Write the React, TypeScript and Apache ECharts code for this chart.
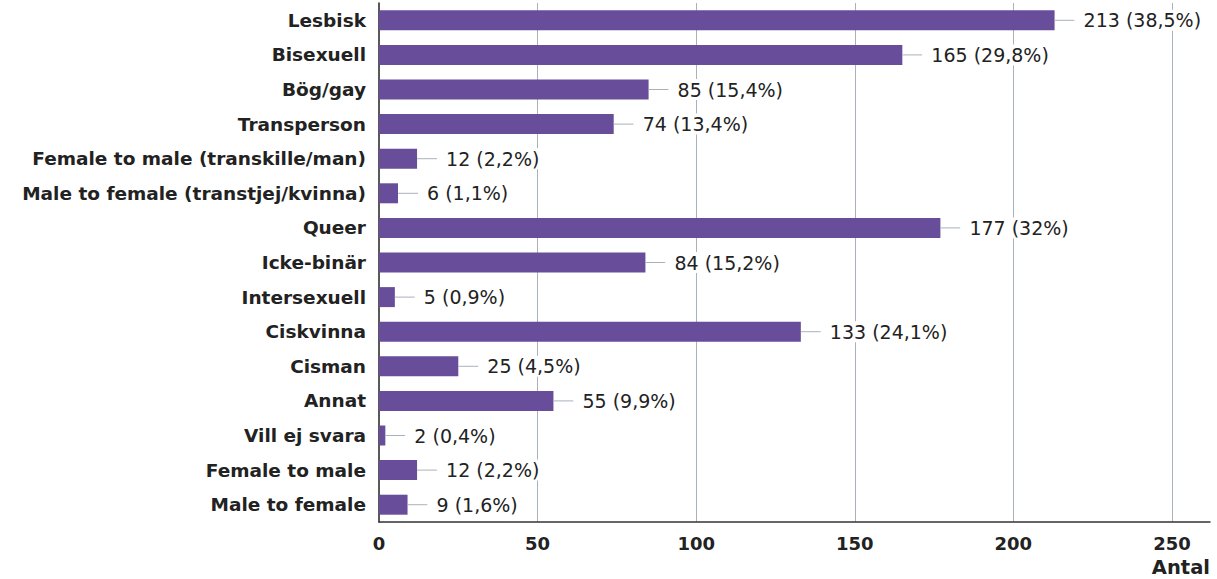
import React, { useEffect, useRef } from "react";
import * as echarts from "echarts";

const categories = [
  "Lesbisk",
  "Bisexuell",
  "Bög/gay",
  "Transperson",
  "Female to male (transkille/man)",
  "Male to female (transtjej/kvinna)",
  "Queer",
  "Icke-binär",
  "Intersexuell",
  "Ciskvinna",
  "Cisman",
  "Annat",
  "Vill ej svara",
  "Female to male",
  "Male to female",
];
const values = [213, 165, 85, 74, 12, 6, 177, 84, 5, 133, 25, 55, 2, 12, 9];
const percents = ["38,5%", "29,8%", "15,4%", "13,4%", "2,2%", "1,1%", "32%", "15,2%", "0,9%", "24,1%", "4,5%", "9,9%", "0,4%", "2,2%", "1,6%"];
const xTicks = [0, 50, 100, 150, 200, 250];
const axisTitle = "Antal";

const FONT = "'DejaVu Sans', sans-serif";

export default function App() {
  const ref = useRef<HTMLDivElement>(null);
  useEffect(() => {
    if (!ref.current) return;
    const chart = echarts.init(ref.current, undefined, { renderer: "svg" });
    chart.setOption({
      animation: false,
      grid: { left: 379, right: 7, top: 3, bottom: 57, containLabel: false, outerBoundsMode: "none" },
      graphic: [
        {
          type: "text",
          right: 7,
          top: 557,
          style: {
            text: axisTitle,
            fontFamily: FONT,
            fontWeight: "bold",
            fontSize: 19.5,
            fill: "#222",
          },
        },
      ],
      xAxis: {
        type: "value",
        min: 0,
        max: 262,
        interval: 50,
        axisLine: { show: true, lineStyle: { color: "#333", width: 1.5 } },
        axisTick: { show: false },
        axisLabel: {
          fontFamily: FONT,
          fontWeight: "bold",
          fontSize: 18,
          color: "#222",
          margin: 12,
          showMaxLabel: false,
          formatter: (v: number) => (xTicks.includes(v) ? String(v) : ""),
        },
        splitLine: {
          show: true,
          showMinLine: false,
          showMaxLine: false,
          lineStyle: { color: "#a9b1bb", width: 1 },
        },
      },
      yAxis: {
        type: "category",
        data: categories,
        inverse: true,
        axisLine: { show: true, lineStyle: { color: "#222", width: 1.5 } },
        axisTick: { show: false },
        axisLabel: {
          fontFamily: FONT,
          fontWeight: "bold",
          fontSize: 18.5,
          color: "#222",
          margin: 13,
        },
        splitLine: { show: false },
      },
      series: [
        {
          type: "bar",
          data: values,
          barWidth: 20,
          itemStyle: { color: "#684e9a" },
          label: {
            show: true,
            position: "right",
            distance: 0,
            formatter: (p: any) => `{l|}{t|${values[p.dataIndex]} (${percents[p.dataIndex]})}`,
            rich: {
              l: { width: 20, height: 1, backgroundColor: "#a9b1bb" },
              t: {
                fontFamily: FONT,
                fontSize: 19,
                color: "#222",
                backgroundColor: "#fff",
                padding: [1, 2, 1, 9],
              },
            },
          },
        },
      ],
    });
    return () => chart.dispose();
  }, []);
  return <div ref={ref} style={{ width: 1217, height: 579, position: "absolute", left: 0, top: 0 }} />;
}
